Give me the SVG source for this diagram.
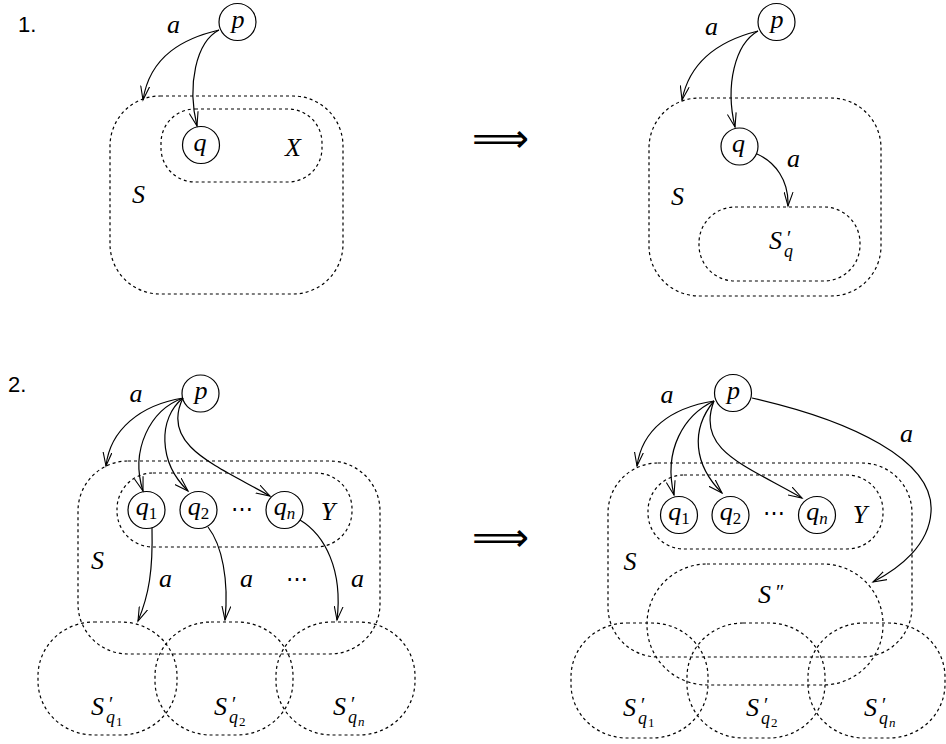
<svg xmlns="http://www.w3.org/2000/svg" width="946" height="744" viewBox="0 0 946 744">
  <defs>
    <style>
      .set { fill: none; stroke: #000; stroke-width: 1.2; stroke-dasharray: 3 3; }
      .state circle { fill: #fff; stroke: #000; stroke-width: 1.2; }
      .edge { fill: none; stroke: #000; stroke-width: 1.2; marker-end: url(#head); }
      .m { font-family: 'Liberation Serif', 'DejaVu Serif', serif; font-style: italic; font-size: 26px; fill: #000; }
      .up { font-style: normal; }
      .num { font-family: 'Liberation Sans', sans-serif; font-size: 22px; fill: #000; }
      .dots { font-family: 'DejaVu Serif', serif; font-size: 22px; fill: #000; }
      .imp { font-family: 'DejaVu Sans', sans-serif; font-size: 40px; fill: #000; }
    </style>
    <marker id="head" viewBox="0 0 16 10" refX="14" refY="5" markerWidth="16" markerHeight="10" markerUnits="userSpaceOnUse" orient="auto">
      <path d="M0,0.5 L14,5 L0,9.5" fill="none" stroke="#000" stroke-width="1.1"/>
    </marker>
  </defs>

  <!-- ===== Case 1, before ===== -->
  <text class="num" x="18" y="32">1.</text>
  <g id="c1l-S">
    <rect class="set" x="110" y="96" width="233" height="198" rx="50"/>
    <text class="m" x="138.5" y="203" text-anchor="middle">S</text>
  </g>
  <g id="c1l-X">
    <rect class="set" x="161" y="109" width="161" height="73" rx="34"/>
    <text class="m" x="293" y="156" text-anchor="middle">X</text>
  </g>
  <g id="c1l-p" class="state">
    <circle cx="237.5" cy="22" r="18.5"/>
    <text class="m" x="238" y="28" text-anchor="middle">p</text>
  </g>
  <g id="c1l-q" class="state">
    <circle cx="201" cy="145" r="18.5"/>
    <text class="m" x="200" y="151" text-anchor="middle">q</text>
  </g>
  <g id="c1l-edges">
    <path class="edge" d="M219,30 C185,38 150,55 143,100"/>
    <path class="edge" d="M219,30 C196,42 187,85 197,126"/>
    <text class="m" x="173.5" y="33" text-anchor="middle">a</text>
  </g>

  <!-- implication arrow -->
  <text class="imp" x="472" y="152" textLength="57" lengthAdjust="spacingAndGlyphs">⟹</text>

  <!-- ===== Case 1, after ===== -->
  <g id="c1r-S">
    <rect class="set" x="649" y="98" width="232" height="198" rx="50"/>
    <text class="m" x="677.5" y="205" text-anchor="middle">S</text>
  </g>
  <g id="c1r-Sq">
    <rect class="set" x="699" y="207" width="161" height="74" rx="36"/>
    <text class="m" x="769" y="249">S<tspan class="up" font-size="20" x="787" y="245">′</tspan><tspan font-size="18" x="784" y="257">q</tspan></text>
  </g>
  <g id="c1r-p" class="state">
    <circle cx="776.5" cy="22" r="18.5"/>
    <text class="m" x="777" y="28" text-anchor="middle">p</text>
  </g>
  <g id="c1r-q" class="state">
    <circle cx="739.5" cy="146.5" r="18.5"/>
    <text class="m" x="738.5" y="152" text-anchor="middle">q</text>
  </g>
  <g id="c1r-edges">
    <path class="edge" d="M758,31 C722,40 690,60 682,100"/>
    <path class="edge" d="M758,31 C735,44 725,85 735,127"/>
    <path class="edge" d="M757,154 C775,162 789,180 788,206"/>
    <text class="m" x="711.5" y="35" text-anchor="middle">a</text>
    <text class="m" x="793.5" y="167" text-anchor="middle">a</text>
  </g>

  <!-- ===== Case 2, before ===== -->
  <text class="num" x="8" y="392">2.</text>
  <g id="c2l-S">
    <rect class="set" x="78" y="461" width="302" height="193" rx="50"/>
    <text class="m" x="97.5" y="569" text-anchor="middle">S</text>
  </g>
  <g id="c2l-Y">
    <rect class="set" x="117" y="473" width="235" height="74" rx="36"/>
    <text class="m" x="328" y="520" text-anchor="middle">Y</text>
  </g>
  <g id="c2l-Sq1">
    <rect class="set" x="38" y="622" width="139" height="113" rx="56" ry="54"/>
    <text class="m" x="91" y="715">S<tspan class="up" font-size="20" x="109" y="711">′</tspan><tspan font-size="18" x="106" y="723">q</tspan><tspan class="up" font-size="13" x="116" y="726">1</tspan></text>
  </g>
  <g id="c2l-Sq2">
    <rect class="set" x="155" y="622" width="138" height="113" rx="56" ry="54"/>
    <text class="m" x="214" y="715">S<tspan class="up" font-size="20" x="232" y="711">′</tspan><tspan font-size="18" x="229" y="723">q</tspan><tspan class="up" font-size="13" x="239" y="726">2</tspan></text>
  </g>
  <g id="c2l-Sqn">
    <rect class="set" x="276" y="622" width="139" height="113" rx="56" ry="54"/>
    <text class="m" x="333" y="715">S<tspan class="up" font-size="20" x="351" y="711">′</tspan><tspan font-size="18" x="348" y="723">q</tspan><tspan font-size="13" x="358" y="726">n</tspan></text>
  </g>
  <g id="c2l-p" class="state">
    <circle cx="200.5" cy="393.5" r="18.5"/>
    <text class="m" x="201" y="399" text-anchor="middle">p</text>
  </g>
  <g id="c2l-q1" class="state">
    <circle cx="146.5" cy="510" r="18.5"/>
    <text class="m" x="146.5" y="515" text-anchor="middle">q<tspan class="up" font-size="17" dy="4">1</tspan></text>
  </g>
  <g id="c2l-q2" class="state">
    <circle cx="198.5" cy="510" r="18.5"/>
    <text class="m" x="198.5" y="515" text-anchor="middle">q<tspan class="up" font-size="17" dy="4">2</tspan></text>
  </g>
  <g id="c2l-qn" class="state">
    <circle cx="284.5" cy="510" r="18.5"/>
    <text class="m" x="284.5" y="515" text-anchor="middle">q<tspan font-size="17" dy="4">n</tspan></text>
  </g>
  <text class="dots" x="241.5" y="516" text-anchor="middle">⋯</text>
  <g id="c2l-edges">
    <path class="edge" d="M183,398 C140,405 110,430 106,466"/>
    <path class="edge" d="M183,398 C150,410 130,450 143,491"/>
    <path class="edge" d="M183,398 C158,418 158,462 188,491"/>
    <path class="edge" d="M183,398 C160,445 215,465 270,496"/>
    <path class="edge" d="M152,528 C153,570 149,595 138,621"/>
    <path class="edge" d="M208,527 C222,545 229,580 225,620"/>
    <path class="edge" d="M300,520 C325,535 343,570 337,620"/>
    <text class="m" x="136" y="402" text-anchor="middle">a</text>
    <text class="m" x="165.5" y="587" text-anchor="middle">a</text>
    <text class="m" x="246.5" y="587" text-anchor="middle">a</text>
    <text class="dots" x="296.5" y="586" text-anchor="middle">⋯</text>
    <text class="m" x="357.5" y="587" text-anchor="middle">a</text>
  </g>

  <!-- implication arrow -->
  <text class="imp" x="472" y="551" textLength="57" lengthAdjust="spacingAndGlyphs">⟹</text>

  <!-- ===== Case 2, after ===== -->
  <g id="c2r-S">
    <rect class="set" x="608" y="463" width="304" height="194" rx="50"/>
    <text class="m" x="630" y="570" text-anchor="middle">S</text>
  </g>
  <g id="c2r-Y">
    <rect class="set" x="648" y="475" width="235" height="74" rx="36"/>
    <text class="m" x="860" y="523" text-anchor="middle">Y</text>
  </g>
  <g id="c2r-S2">
    <rect class="set" x="647" y="564" width="236" height="121" rx="60"/>
    <text class="m" x="758" y="603">S<tspan class="up" font-size="20" x="776" y="599">″</tspan></text>
  </g>
  <g id="c2r-Sq1">
    <rect class="set" x="571" y="623" width="137" height="115" rx="56" ry="54"/>
    <text class="m" x="623" y="716">S<tspan class="up" font-size="20" x="641" y="712">′</tspan><tspan font-size="18" x="638" y="724">q</tspan><tspan class="up" font-size="13" x="648" y="727">1</tspan></text>
  </g>
  <g id="c2r-Sq2">
    <rect class="set" x="687" y="623" width="138" height="115" rx="56" ry="54"/>
    <text class="m" x="746" y="716">S<tspan class="up" font-size="20" x="764" y="712">′</tspan><tspan font-size="18" x="761" y="724">q</tspan><tspan class="up" font-size="13" x="771" y="727">2</tspan></text>
  </g>
  <g id="c2r-Sqn">
    <rect class="set" x="808" y="623" width="137" height="115" rx="56" ry="54"/>
    <text class="m" x="864" y="716">S<tspan class="up" font-size="20" x="882" y="712">′</tspan><tspan font-size="18" x="879" y="724">q</tspan><tspan font-size="13" x="889" y="727">n</tspan></text>
  </g>
  <g id="c2r-p" class="state">
    <circle cx="733" cy="393" r="18.5"/>
    <text class="m" x="733.5" y="399" text-anchor="middle">p</text>
  </g>
  <g id="c2r-q1" class="state">
    <circle cx="679" cy="515" r="18.5"/>
    <text class="m" x="679" y="520" text-anchor="middle">q<tspan class="up" font-size="17" dy="4">1</tspan></text>
  </g>
  <g id="c2r-q2" class="state">
    <circle cx="730.5" cy="515" r="18.5"/>
    <text class="m" x="730.5" y="520" text-anchor="middle">q<tspan class="up" font-size="17" dy="4">2</tspan></text>
  </g>
  <g id="c2r-qn" class="state">
    <circle cx="817" cy="515" r="18.5"/>
    <text class="m" x="817" y="520" text-anchor="middle">q<tspan font-size="17" dy="4">n</tspan></text>
  </g>
  <text class="dots" x="773.5" y="520" text-anchor="middle">⋯</text>
  <g id="c2r-edges">
    <path class="edge" d="M714,401 C670,408 642,430 637,466"/>
    <path class="edge" d="M714,401 C684,415 663,450 674,495"/>
    <path class="edge" d="M714,401 C690,430 694,465 722,493"/>
    <path class="edge" d="M714,401 C695,450 745,465 802,498"/>
    <path class="edge" d="M752,398 C850,420 935,460 931,512 C929,545 900,568 873,582"/>
    <text class="m" x="667" y="403" text-anchor="middle">a</text>
    <text class="m" x="906.5" y="442" text-anchor="middle">a</text>
  </g>
</svg>
